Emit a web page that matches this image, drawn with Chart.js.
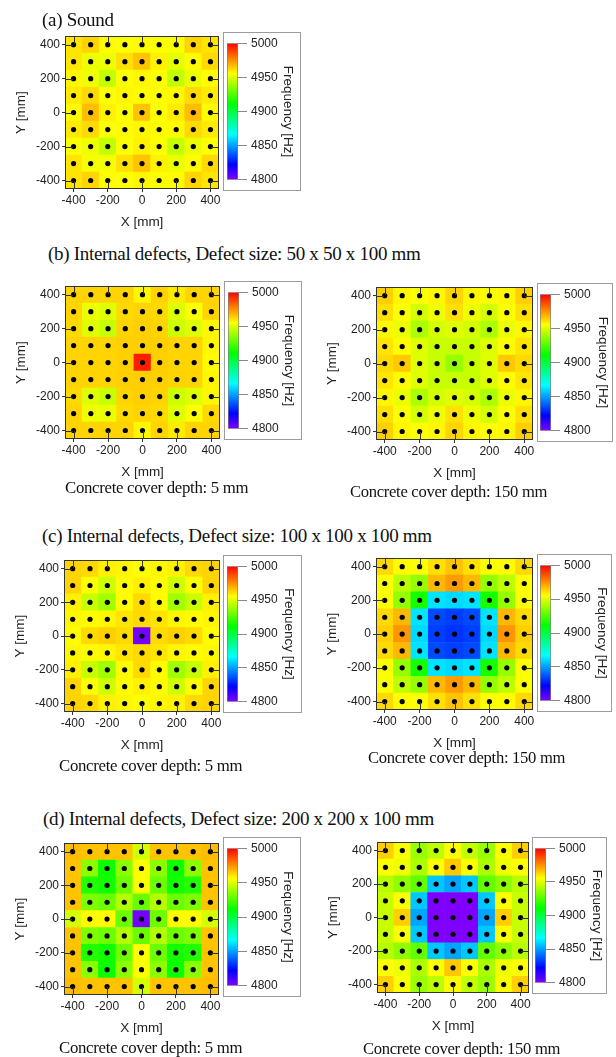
<!DOCTYPE html>
<html lang="en">
<head>
<meta charset="utf-8">
<title>Resonance frequency maps</title>
<script src="https://cdn.jsdelivr.net/npm/chart.js@4.4.1/dist/chart.umd.min.js"></script>
<style>
  html, body { margin: 0; padding: 0; background: #fff; }
  #page { position: relative; width: 616px; height: 1057px; overflow: hidden; background: #fff; }
  canvas { position: absolute; display: block; }
  .box { position: absolute; box-sizing: border-box; border: 1px solid #9c9c9c; }
  .cap { position: absolute; white-space: nowrap; font-family: "Liberation Serif", "Times New Roman", serif; color: #111; line-height: 1; letter-spacing: -0.3px; }
</style>
</head>
<body>
<div id="page"></div>
<script>
// Measurement grid (mm); rows run from the top edge (Y = 400) down to Y = -400
const X_POS = [-400, -300, -200, -100, 0, 100, 200, 300, 400];
const Y_POS = [400, 300, 200, 100, 0, -100, -200, -300, -400];
const AXIS_TICKS = [-400, -200, 0, 200, 400];
const FREQ_TICKS = [4800, 4850, 4900, 4950, 5000];
const FREQ_MIN = 4800;
const FREQ_MAX = 5000;

// Resonance frequency [Hz] at each grid point
const freqSound = [
  [4960, 4963, 4956, 4955, 4956, 4955, 4955, 4963, 4960],
  [4960, 4952, 4953, 4961, 4966, 4958, 4951, 4956, 4962],
  [4957, 4953, 4945, 4955, 4957, 4955, 4945, 4952, 4956],
  [4959, 4962, 4955, 4957, 4956, 4956, 4957, 4962, 4959],
  [4956, 4967, 4958, 4955, 4966, 4955, 4959, 4967, 4956],
  [4959, 4962, 4955, 4956, 4957, 4956, 4956, 4962, 4959],
  [4955, 4953, 4945, 4955, 4958, 4955, 4945, 4952, 4955],
  [4960, 4954, 4954, 4961, 4966, 4958, 4952, 4956, 4962],
  [4960, 4963, 4956, 4955, 4957, 4955, 4956, 4963, 4960]
];
const freqDef50Cover5 = [
  [4963, 4963, 4963, 4963, 4957, 4963, 4959, 4963, 4963],
  [4963, 4952, 4950, 4962, 4963, 4962, 4950, 4955, 4963],
  [4962, 4950, 4946, 4963, 4964, 4963, 4947, 4950, 4957],
  [4963, 4963, 4963, 4964, 4964, 4964, 4963, 4963, 4957],
  [4963, 4963, 4963, 4964, 4995, 4964, 4963, 4963, 4956],
  [4963, 4963, 4963, 4964, 4964, 4964, 4963, 4963, 4957],
  [4962, 4950, 4946, 4963, 4964, 4963, 4947, 4950, 4957],
  [4963, 4953, 4952, 4962, 4963, 4962, 4950, 4955, 4962],
  [4963, 4963, 4963, 4963, 4957, 4963, 4959, 4963, 4963]
];
const freqDef50Cover150 = [
  [4964, 4957, 4955, 4957, 4963, 4957, 4955, 4957, 4964],
  [4961, 4955, 4948, 4953, 4961, 4953, 4948, 4955, 4961],
  [4957, 4952, 4941, 4948, 4950, 4948, 4941, 4952, 4957],
  [4960, 4956, 4950, 4946, 4946, 4946, 4950, 4956, 4960],
  [4962, 4965, 4950, 4946, 4937, 4946, 4950, 4965, 4962],
  [4960, 4956, 4950, 4946, 4946, 4946, 4950, 4956, 4960],
  [4957, 4952, 4941, 4948, 4950, 4948, 4941, 4952, 4957],
  [4961, 4955, 4948, 4953, 4961, 4953, 4948, 4955, 4961],
  [4964, 4957, 4955, 4957, 4963, 4957, 4955, 4957, 4964]
];
const freqDef100Cover5 = [
  [4963, 4962, 4958, 4957, 4955, 4957, 4958, 4962, 4963],
  [4963, 4955, 4947, 4956, 4958, 4956, 4947, 4955, 4963],
  [4958, 4946, 4939, 4956, 4962, 4956, 4939, 4946, 4958],
  [4957, 4956, 4957, 4960, 4962, 4960, 4957, 4956, 4957],
  [4956, 4962, 4964, 4962, 4802, 4962, 4964, 4962, 4956],
  [4957, 4956, 4957, 4960, 4962, 4960, 4957, 4956, 4957],
  [4958, 4946, 4939, 4956, 4962, 4956, 4939, 4946, 4958],
  [4963, 4955, 4947, 4956, 4958, 4956, 4947, 4955, 4963],
  [4963, 4962, 4958, 4957, 4955, 4957, 4958, 4962, 4963]
];
const freqDef100Cover150 = [
  [4962, 4956, 4955, 4961, 4966, 4961, 4955, 4956, 4962],
  [4955, 4944, 4937, 4968, 4973, 4968, 4937, 4944, 4955],
  [4955, 4937, 4915, 4862, 4860, 4862, 4915, 4937, 4955],
  [4962, 4968, 4862, 4835, 4833, 4835, 4862, 4968, 4962],
  [4964, 4974, 4860, 4833, 4831, 4833, 4860, 4974, 4964],
  [4962, 4968, 4862, 4835, 4833, 4835, 4862, 4968, 4962],
  [4955, 4937, 4915, 4862, 4860, 4862, 4915, 4937, 4955],
  [4955, 4944, 4937, 4968, 4973, 4968, 4937, 4944, 4955],
  [4962, 4956, 4955, 4961, 4966, 4961, 4955, 4956, 4962]
];
const freqDef200Cover5 = [
  [4967, 4966, 4966, 4966, 4948, 4966, 4966, 4966, 4967],
  [4966, 4935, 4913, 4935, 4955, 4935, 4913, 4935, 4966],
  [4966, 4917, 4914, 4930, 4955, 4930, 4914, 4917, 4966],
  [4966, 4933, 4930, 4942, 4929, 4942, 4930, 4933, 4966],
  [4948, 4956, 4956, 4930, 4802, 4930, 4956, 4956, 4948],
  [4966, 4933, 4930, 4942, 4929, 4942, 4930, 4933, 4966],
  [4966, 4917, 4914, 4930, 4955, 4930, 4914, 4917, 4966],
  [4966, 4935, 4913, 4935, 4955, 4935, 4913, 4935, 4966],
  [4967, 4966, 4966, 4966, 4948, 4966, 4966, 4966, 4967]
];
const freqDef200Cover150 = [
  [4964, 4955, 4938, 4944, 4956, 4945, 4938, 4955, 4964],
  [4955, 4953, 4941, 4955, 4965, 4955, 4941, 4953, 4955],
  [4943, 4936, 4928, 4857, 4851, 4857, 4928, 4936, 4943],
  [4946, 4955, 4857, 4800, 4800, 4800, 4857, 4955, 4946],
  [4946, 4964, 4851, 4800, 4800, 4800, 4851, 4964, 4946],
  [4946, 4955, 4857, 4800, 4800, 4800, 4857, 4955, 4946],
  [4943, 4936, 4928, 4857, 4851, 4857, 4928, 4936, 4943],
  [4955, 4953, 4941, 4955, 4965, 4955, 4941, 4953, 4955],
  [4964, 4955, 4938, 4944, 4956, 4945, 4938, 4955, 4964]
];

// Text
const TITLE_A = '(a) Sound';
const TITLE_B = '(b) Internal defects, Defect size: 50 x 50 x 100 mm';
const TITLE_C = '(c) Internal defects, Defect size: 100 x 100 x 100 mm';
const TITLE_D = '(d) Internal defects, Defect size: 200 x 200 x 100 mm';
const COVER_5 = 'Concrete cover depth: 5 mm';
const COVER_150 = 'Concrete cover depth: 150 mm';
const X_TITLE = 'X [mm]';
const Y_TITLE = 'Y [mm]';
const CBAR_TITLE = 'Frequency [Hz]';

// ---- layout (px) ----
const SANS = '"Liberation Sans", Arial, sans-serif';
const INK = '#222';
const FRAME = '#333';
const Y_AXIS_W = 65;
const X_AXIS_H = 46;
const PAD = 6;

const PANELS = [
  { values: freqSound,          plot: [65, 33, 219, 189],  box: [223, 32, 301, 191],  barLeft: 4 },
  { values: freqDef50Cover5,    plot: [65, 283, 220, 439], box: [224, 281, 302, 440], barLeft: 4 },
  { values: freqDef50Cover150,  plot: [376, 284, 533, 440], box: [537, 283, 613, 442], barLeft: 3 },
  { values: freqDef100Cover5,   plot: [64, 557, 220, 712], box: [223, 555, 302, 713], barLeft: 4 },
  { values: freqDef100Cover150, plot: [376, 555, 533, 710], box: [537, 554, 612, 712], barLeft: 3 },
  { values: freqDef200Cover5,   plot: [64, 840, 219, 995], box: [223, 837, 301, 997], barLeft: 4 },
  { values: freqDef200Cover150, plot: [377, 839, 529, 993], box: [532, 837, 607, 994], barLeft: 3 }
];

const CAPTIONS = [
  { text: TITLE_A,   x: 42,  cy: 19,   size: 19 },
  { text: TITLE_B,   x: 48,  cy: 253,  size: 19 },
  { text: COVER_5,   x: 65,  cy: 488,  size: 16.8 },
  { text: COVER_150, x: 350, cy: 492,  size: 16.6 },
  { text: TITLE_C,   x: 42,  cy: 535,  size: 19 },
  { text: COVER_5,   x: 59,  cy: 766,  size: 16.8 },
  { text: COVER_150, x: 368, cy: 758,  size: 16.6 },
  { text: TITLE_D,   x: 43,  cy: 818,  size: 19 },
  { text: COVER_5,   x: 59,  cy: 1048, size: 16.8 },
  { text: COVER_150, x: 363, cy: 1049, size: 16.6 }
];

// Rainbow scale: violet (4800 Hz) through blue, cyan, green, yellow to red (5000 Hz)
function freqColor(v) {
  const t = Math.min(1, Math.max(0, (v - FREQ_MIN) / (FREQ_MAX - FREQ_MIN)));
  const h = 270 * (1 - t);
  const f = n => {
    const k = (n + h / 60) % 6;
    return Math.round(255 * (1 - Math.max(0, Math.min(k, 4 - k, 1))));
  };
  return `rgb(${f(5)},${f(3)},${f(1)})`;
}

const page = document.getElementById('page');

function addCanvas(left, top, w, h) {
  const c = document.createElement('canvas');
  c.width = w; c.height = h;
  c.style.left = left + 'px'; c.style.top = top + 'px';
  c.style.width = w + 'px'; c.style.height = h + 'px';
  page.appendChild(c);
  return c;
}

// Frame around the map plus inward tick marks on all four sides
const frameTicks = {
  id: 'frameTicks',
  afterDatasetsDraw(chart) {
    const { ctx, chartArea: a, scales: { x, y } } = chart;
    const len = 8;
    ctx.save();
    ctx.strokeStyle = FRAME;
    ctx.lineWidth = 1;
    ctx.beginPath();
    x.ticks.forEach(t => {
      const px = Math.round(x.getPixelForValue(t.value)) + 0.5;
      ctx.moveTo(px, a.top); ctx.lineTo(px, a.top + len);
      ctx.moveTo(px, a.bottom); ctx.lineTo(px, a.bottom - len);
    });
    y.ticks.forEach(t => {
      const py = Math.round(y.getPixelForValue(t.value)) + 0.5;
      ctx.moveTo(a.left, py); ctx.lineTo(a.left + len, py);
      ctx.moveTo(a.right, py); ctx.lineTo(a.right - len, py);
    });
    ctx.stroke();
    ctx.strokeRect(Math.round(a.left) + 0.5, Math.round(a.top) + 0.5,
                   Math.round(a.right - a.left) - 1, Math.round(a.bottom - a.top) - 1);
    ctx.restore();
  }
};

function drawMap(p) {
  const [l, t, r, b] = p.plot;
  const w = Y_AXIS_W + (r - l) + PAD;
  const h = PAD + (b - t) + X_AXIS_H;
  const canvas = addCanvas(l - Y_AXIS_W, t - PAD, w, h);
  const half = (X_POS[1] - X_POS[0]) / 2;
  const cells = [];
  const points = [];
  Y_POS.forEach((yv, ri) => {
    X_POS.forEach((xv, ci) => {
      cells.push({ x: xv, y: [yv - half, yv + half], v: p.values[ri][ci] });
      points.push({ x: xv, y: yv });
    });
  });
  const lim = X_POS[X_POS.length - 1] + half;
  const tickFont = { family: SANS, size: 12 };
  const titleFont = { family: SANS, size: 13.5 };
  new Chart(canvas, {
    type: 'bar',
    data: {
      datasets: [
        {
          type: 'scatter', data: points, order: 0,
          pointRadius: 2.6, pointHoverRadius: 2.6,
          pointBackgroundColor: '#000', pointBorderWidth: 0
        },
        {
          type: 'bar', data: cells, order: 1, grouped: false,
          barPercentage: 1, categoryPercentage: 1, borderWidth: 0,
          backgroundColor: c => freqColor(c.raw.v)
        }
      ]
    },
    options: {
      responsive: false, animation: false, devicePixelRatio: 1,
      layout: { padding: { top: PAD, right: PAD, left: 0, bottom: 0 } },
      plugins: { legend: { display: false }, tooltip: { enabled: false } },
      scales: {
        x: {
          type: 'linear', min: -lim, max: lim, offset: false,
          afterBuildTicks: s => { s.ticks = AXIS_TICKS.map(v => ({ value: v })); },
          afterFit: s => { s.height = X_AXIS_H; },
          border: { display: false },
          grid: { drawOnChartArea: false, drawTicks: true, tickLength: 3, color: FRAME, offset: false },
          ticks: { font: tickFont, color: INK, padding: 1, maxRotation: 0, autoSkip: false, callback: v => String(v) },
          title: { display: true, text: X_TITLE, font: titleFont, color: INK, padding: { top: 0, bottom: 5 } }
        },
        y: {
          type: 'linear', min: -lim, max: lim,
          afterBuildTicks: s => { s.ticks = AXIS_TICKS.map(v => ({ value: v })); },
          afterFit: s => { s.width = Y_AXIS_W; },
          border: { display: false },
          grid: { drawOnChartArea: false, drawTicks: true, tickLength: 3, color: FRAME },
          ticks: { font: tickFont, color: INK, padding: 2, autoSkip: false, callback: v => String(v) },
          title: { display: true, text: Y_TITLE, font: titleFont, color: INK, padding: { top: 13, bottom: 0 } }
        }
      }
    },
    plugins: [frameTicks]
  });
}

function drawColorbar(p) {
  const [l, t, r, b] = p.box;
  const w = r - l, h = b - t;
  const box = document.createElement('div');
  box.className = 'box';
  Object.assign(box.style, { left: l + 'px', top: t + 'px', width: w + 'px', height: h + 'px' });
  page.appendChild(box);
  const canvas = addCanvas(l, t, w, h);
  const barW = 11;
  const font = { family: SANS, size: 12 };
  const titleFont = { family: SANS, size: 13.5 };
  new Chart(canvas, {
    type: 'bar',
    data: {
      labels: [''],
      datasets: [{
        data: [[FREQ_MIN, FREQ_MAX]],
        barPercentage: 1, categoryPercentage: 1,
        borderWidth: 1, borderColor: '#808080', borderSkipped: false,
        backgroundColor: c => {
          const ch = c.chart;
          const ys = ch.scales.y;
          if (!ys || !ch.chartArea) return '#fff';
          const g = ch.ctx.createLinearGradient(0, ys.getPixelForValue(FREQ_MIN), 0, ys.getPixelForValue(FREQ_MAX));
          const n = 54;
          for (let k = 0; k <= n; k++) g.addColorStop(k / n, freqColor(FREQ_MIN + (FREQ_MAX - FREQ_MIN) * k / n));
          return g;
        }
      }]
    },
    options: {
      responsive: false, animation: false, devicePixelRatio: 1,
      layout: { padding: { top: 8, bottom: 8, left: p.barLeft, right: 0 } },
      plugins: { legend: { display: false }, tooltip: { enabled: false } },
      scales: {
        x: { display: false },
        y: {
          position: 'right', min: FREQ_MIN, max: FREQ_MAX,
          afterBuildTicks: s => { s.ticks = FREQ_TICKS.map(v => ({ value: v })); },
          afterFit: s => { s.width = w - p.barLeft - barW; },
          border: { display: false },
          grid: { drawOnChartArea: false, drawTicks: true, tickLength: 9, color: '#8a8a8a' },
          ticks: { font, color: INK, padding: 4, autoSkip: false, callback: v => String(v) },
          title: { display: true, text: CBAR_TITLE, font: titleFont, color: INK, padding: { top: p.barLeft === 4 ? 5.5 : 2.5, bottom: 0 } }
        }
      }
    }
  });
}

PANELS.forEach(p => { drawMap(p); drawColorbar(p); });

CAPTIONS.forEach(c => {
  const d = document.createElement('div');
  d.className = 'cap';
  d.textContent = c.text;
  Object.assign(d.style, { left: c.x + 'px', top: (c.cy - c.size / 2) + 'px', fontSize: c.size + 'px' });
  page.appendChild(d);
});
</script>
</body>
</html>
